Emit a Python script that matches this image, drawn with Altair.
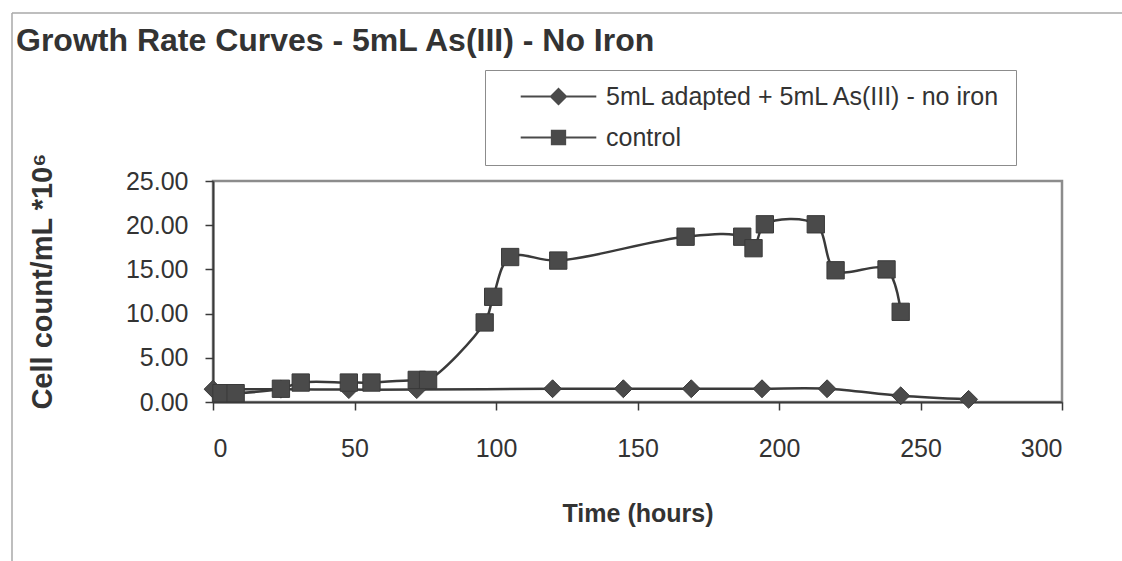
import altair as alt
import pandas as pd

# ---- data ----
series_names = ["5mL adapted + 5mL As(III) - no iron", "control"]

adapted_time = [0, 24, 48, 72, 120, 145, 169, 194, 217, 243, 267]
adapted_count = [1.45, 1.45, 1.4, 1.4, 1.5, 1.5, 1.5, 1.5, 1.5, 0.7, 0.3]

control_time = [3, 8, 24, 31, 48, 56, 72, 76, 96, 99, 105, 122, 167, 187, 191, 195, 213, 220, 238, 243]
control_count = [1.0, 1.0, 1.5, 2.2, 2.2, 2.2, 2.5, 2.5, 9.0, 11.9, 16.4, 16.0, 18.7, 18.7, 17.4, 20.1, 20.1, 14.9, 15.0, 10.2]

x_ticks = [0, 50, 100, 150, 200, 250, 300]
y_ticks = [0, 5, 10, 15, 20, 25]

rows = []
for t, v in zip(adapted_time, adapted_count):
    rows.append({"time": t, "count": v, "series": series_names[0]})
for t, v in zip(control_time, control_count):
    rows.append({"time": t, "count": v, "series": series_names[1]})
df = pd.DataFrame(rows)

FONT = "Liberation Sans"
TXT = "#333333"
INK = "#3a3a3a"
MARK = "#4a4a4a"
FRAME = "#a8a8a8"

x_enc = alt.X("time:Q", scale=alt.Scale(domain=[0, 300], nice=False),
              axis=alt.Axis(values=x_ticks, title="Time (hours)", format="d"))
y_enc = alt.Y("count:Q", scale=alt.Scale(domain=[0, 25], nice=False),
              axis=alt.Axis(values=y_ticks, title="Cell count/mL *10\u2076", format=".2f",
                            titleFontSize=29, titleY=100))

base = alt.Chart(df)

# custom legend symbols: a line segment (thin filled bar) with a diamond / square on it
diamond_path = "M-4.2,-0.12H4.2V0.12H-4.2ZM0,-1L1,0L0,1L-1,0Z"
square_path = "M-4.2,-0.12H4.2V0.12H-4.2ZM-0.85,-0.85H0.85V0.85H-0.85Z"

legend_layer = base.mark_point(opacity=0, filled=True, color=MARK).encode(
    x=x_enc, y=y_enc,
    shape=alt.Shape("series:N",
                    scale=alt.Scale(domain=series_names, range=[diamond_path, square_path]),
                    legend=alt.Legend(title=None, orient="none", legendX=272, legendY=-111,
                                      symbolSize=324, symbolOffset=47, labelOffset=35,
                                      symbolOpacity=1,
                                      labelFont=FONT, labelFontSize=25, labelColor=TXT,
                                      rowPadding=15, padding=14,
                                      strokeColor="#8c8c8c", fillColor="white",
                                      labelLimit=700)),
)

lines = base.mark_line(interpolate="catmull-rom", color=INK, strokeWidth=2.5).encode(
    x=x_enc, y=y_enc, detail="series:N")

diamonds = base.transform_filter(alt.datum.series == series_names[0]).mark_point(
    shape="diamond", filled=True, size=320, color=MARK, opacity=1,
    stroke=INK, strokeWidth=1).encode(x=x_enc, y=y_enc)

squares = base.transform_filter(alt.datum.series == series_names[1]).mark_point(
    shape="square", filled=True, size=300, color=MARK, opacity=1,
    stroke=INK, strokeWidth=1).encode(x=x_enc, y=y_enc)

# decorative outer frame of the original figure (top and left edges)
frame_df = pd.DataFrame({"k": [0]})
frame_top = alt.Chart(frame_df).mark_rule(color=FRAME, strokeWidth=1.5).encode(
    x=alt.value(-201), x2=alt.value(909), y=alt.value(-168))
frame_left = alt.Chart(frame_df).mark_rule(color=FRAME, strokeWidth=1.5).encode(
    x=alt.value(-201), y=alt.value(-168), y2=alt.value(380))

chart = alt.layer(frame_top, frame_left, legend_layer, lines, diamonds, squares).properties(
    width=849, height=221,
    background="white",
    padding={"left": 213, "top": 181, "right": 60, "bottom": 159},
    autosize=alt.AutoSizeParams(type="none"),
    title=alt.TitleParams("Growth Rate Curves - 5mL As(III) - No Iron",
                          anchor="start", frame="group", dx=-197, offset=-71,
                          baseline="alphabetic",
                          font=FONT, fontSize=32, fontWeight="bold",
                          color=TXT),
).configure_view(stroke="#8c8c8c", strokeWidth=2.5).configure_axis(
    grid=False, domainColor=INK, domainWidth=2, tickColor=INK, tickWidth=1.5,
    tickSize=8, labelFont=FONT, labelFontSize=25, labelColor=TXT,
    titleFont=FONT, titleFontSize=25, titleFontWeight="bold", titleColor=TXT,
).configure_axisX(labelPadding=26, titlePadding=40).configure_axisY(
    labelPadding=17, titlePadding=68)

chart.save("out.html", embed_options={"renderer": "svg", "actions": False})
